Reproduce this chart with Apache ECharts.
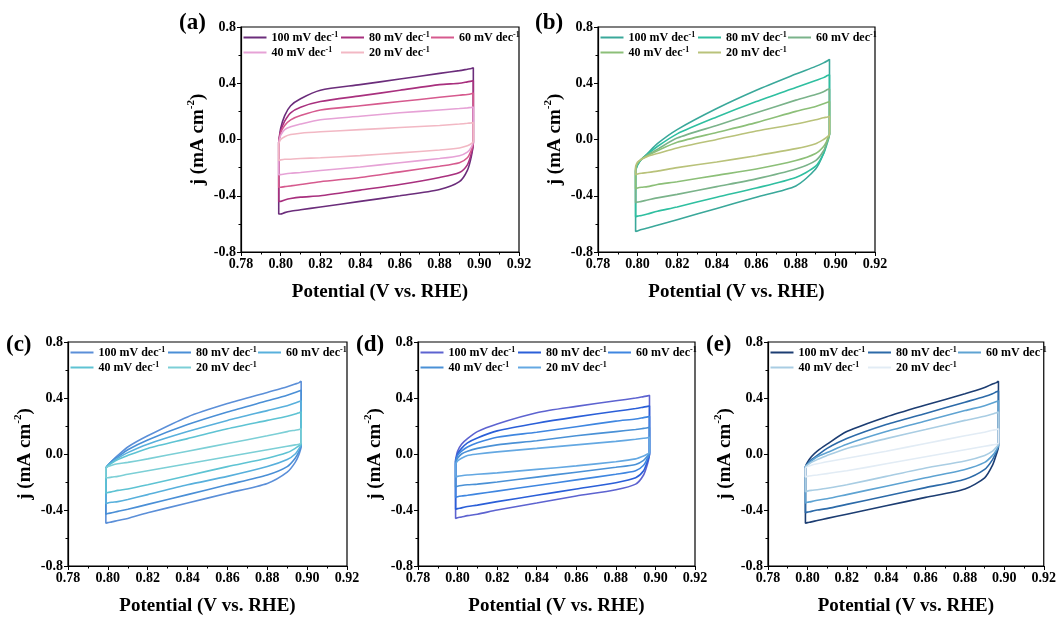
<!DOCTYPE html>
<html>
<head>
<meta charset="utf-8">
<script src="https://cdn.jsdelivr.net/npm/echarts@6/dist/echarts.min.js"></script>
<style>html,body{margin:0;padding:0;background:#fff}#c{width:1059px;height:617px}</style>
</head>
<body>
<div id="c"></div>
<script>
// Potential grid (V vs. RHE) used for both branches of each CV loop
const potentials = [0.799, 0.8, 0.802, 0.805, 0.81, 0.82, 0.84, 0.86, 0.88, 0.89, 0.894, 0.896, 0.897];
const scanRates = ['100', '80', '60', '40', '20'];
const panelLabels = ['(a)', '(b)', '(c)', '(d)', '(e)'];
const xTickMin = 0.78, xTickMax = 0.92, xTickStep = 0.02;
const yTickMin = -0.8, yTickMax = 0.8, yTickStep = 0.4;

// Panel (a): anodic (upper) and cathodic (lower) branches, rows = 100,80,60,40,20 mV
const aUpper = [
  [-0.02, 0.08, 0.17, 0.24, 0.29, 0.35, 0.39, 0.43, 0.47, 0.49, 0.50, 0.505, 0.51],
  [-0.02, 0.06, 0.13, 0.19, 0.23, 0.27, 0.31, 0.35, 0.39, 0.40, 0.41, 0.415, 0.42],
  [-0.02, 0.05, 0.10, 0.14, 0.17, 0.21, 0.24, 0.27, 0.30, 0.315, 0.32, 0.325, 0.33],
  [-0.02, 0.03, 0.07, 0.09, 0.11, 0.14, 0.165, 0.19, 0.21, 0.22, 0.225, 0.228, 0.23],
  [-0.03, 0.00, 0.02, 0.035, 0.045, 0.055, 0.07, 0.085, 0.10, 0.11, 0.115, 0.118, 0.12]
];
const aLower = [
  [-0.53, -0.53, -0.52, -0.51, -0.50, -0.48, -0.44, -0.40, -0.355, -0.30, -0.22, -0.12, -0.02],
  [-0.44, -0.44, -0.43, -0.42, -0.41, -0.40, -0.36, -0.32, -0.27, -0.235, -0.18, -0.10, -0.02],
  [-0.34, -0.34, -0.335, -0.33, -0.32, -0.30, -0.27, -0.23, -0.19, -0.165, -0.13, -0.075, -0.02],
  [-0.25, -0.25, -0.245, -0.24, -0.235, -0.22, -0.195, -0.165, -0.135, -0.115, -0.09, -0.055, -0.01],
  [-0.15, -0.145, -0.14, -0.14, -0.135, -0.13, -0.115, -0.095, -0.075, -0.06, -0.045, -0.03, -0.01]
];
// Panel (b)
const bUpper = [
  [-0.22, -0.18, -0.14, -0.10, -0.03, 0.07, 0.22, 0.35, 0.465, 0.52, 0.545, 0.56, 0.57],
  [-0.22, -0.18, -0.14, -0.105, -0.05, 0.04, 0.16, 0.27, 0.37, 0.42, 0.44, 0.455, 0.46],
  [-0.21, -0.17, -0.14, -0.11, -0.07, 0.01, 0.10, 0.19, 0.28, 0.32, 0.34, 0.355, 0.36],
  [-0.20, -0.17, -0.14, -0.115, -0.08, -0.02, 0.05, 0.12, 0.20, 0.235, 0.255, 0.265, 0.27],
  [-0.19, -0.16, -0.14, -0.12, -0.10, -0.06, 0.00, 0.06, 0.11, 0.14, 0.155, 0.16, 0.165]
];
const bLower = [
  [-0.655, -0.65, -0.64, -0.63, -0.61, -0.57, -0.49, -0.41, -0.33, -0.21, -0.10, 0.0, 0.04],
  [-0.55, -0.545, -0.54, -0.53, -0.51, -0.48, -0.41, -0.345, -0.27, -0.19, -0.10, -0.02, 0.04],
  [-0.45, -0.445, -0.44, -0.43, -0.415, -0.39, -0.335, -0.28, -0.21, -0.15, -0.08, -0.01, 0.04],
  [-0.35, -0.345, -0.34, -0.335, -0.32, -0.30, -0.255, -0.21, -0.15, -0.10, -0.05, 0.0, 0.04],
  [-0.25, -0.245, -0.24, -0.235, -0.225, -0.20, -0.16, -0.115, -0.065, -0.03, 0.0, 0.02, 0.04]
];
// Panel (c)
const cUpper = [
  [-0.10, -0.08, -0.05, -0.01, 0.05, 0.13, 0.265, 0.36, 0.44, 0.48, 0.50, 0.51, 0.52],
  [-0.10, -0.08, -0.05, -0.02, 0.03, 0.10, 0.21, 0.30, 0.38, 0.42, 0.44, 0.45, 0.455],
  [-0.10, -0.08, -0.06, -0.03, 0.01, 0.07, 0.16, 0.24, 0.31, 0.345, 0.365, 0.375, 0.38],
  [-0.10, -0.085, -0.065, -0.04, -0.01, 0.04, 0.11, 0.18, 0.24, 0.27, 0.285, 0.295, 0.30],
  [-0.10, -0.09, -0.08, -0.07, -0.06, -0.035, 0.02, 0.075, 0.13, 0.16, 0.17, 0.175, 0.18]
];
const cLower = [
  [-0.495, -0.49, -0.485, -0.475, -0.46, -0.42, -0.35, -0.28, -0.21, -0.13, -0.06, 0.0, 0.06],
  [-0.43, -0.425, -0.42, -0.41, -0.395, -0.36, -0.29, -0.22, -0.15, -0.09, -0.03, 0.02, 0.06],
  [-0.355, -0.35, -0.345, -0.34, -0.325, -0.29, -0.22, -0.16, -0.09, -0.04, 0.0, 0.04, 0.07],
  [-0.28, -0.275, -0.27, -0.26, -0.25, -0.22, -0.155, -0.09, -0.03, 0.01, 0.04, 0.06, 0.07],
  [-0.17, -0.17, -0.165, -0.16, -0.145, -0.12, -0.07, -0.02, 0.03, 0.055, 0.065, 0.07, 0.08]
];
// Panel (d)
const dUpper = [
  [-0.04, 0.02, 0.07, 0.11, 0.16, 0.215, 0.295, 0.34, 0.38, 0.40, 0.41, 0.415, 0.42],
  [-0.05, 0.0, 0.04, 0.08, 0.115, 0.165, 0.22, 0.265, 0.305, 0.325, 0.335, 0.34, 0.345],
  [-0.05, -0.01, 0.02, 0.05, 0.08, 0.12, 0.155, 0.195, 0.235, 0.25, 0.26, 0.265, 0.27],
  [-0.06, -0.03, 0.0, 0.02, 0.04, 0.065, 0.095, 0.13, 0.16, 0.175, 0.183, 0.187, 0.19],
  [-0.07, -0.05, -0.03, -0.01, 0.0, 0.015, 0.04, 0.065, 0.09, 0.105, 0.112, 0.116, 0.12]
];
const dLower = [
  [-0.46, -0.455, -0.45, -0.44, -0.43, -0.40, -0.35, -0.30, -0.255, -0.215, -0.15, -0.07, 0.0],
  [-0.395, -0.39, -0.385, -0.375, -0.365, -0.34, -0.295, -0.25, -0.205, -0.17, -0.12, -0.05, 0.0],
  [-0.31, -0.305, -0.30, -0.295, -0.285, -0.265, -0.225, -0.185, -0.145, -0.12, -0.08, -0.03, 0.0],
  [-0.235, -0.23, -0.225, -0.22, -0.215, -0.20, -0.165, -0.13, -0.095, -0.075, -0.045, -0.015, 0.01],
  [-0.165, -0.16, -0.155, -0.15, -0.145, -0.135, -0.11, -0.085, -0.055, -0.035, -0.015, 0.0, 0.01]
];
// Panel (e)
const eUpper = [
  [-0.09, -0.06, -0.02, 0.02, 0.07, 0.16, 0.265, 0.35, 0.43, 0.475, 0.50, 0.51, 0.52],
  [-0.09, -0.07, -0.04, -0.01, 0.04, 0.11, 0.21, 0.29, 0.37, 0.41, 0.43, 0.445, 0.45],
  [-0.09, -0.075, -0.05, -0.02, 0.01, 0.07, 0.16, 0.235, 0.31, 0.345, 0.365, 0.375, 0.38],
  [-0.09, -0.08, -0.06, -0.04, -0.01, 0.04, 0.11, 0.175, 0.24, 0.27, 0.285, 0.295, 0.30],
  [-0.10, -0.09, -0.08, -0.07, -0.055, -0.03, 0.02, 0.075, 0.13, 0.155, 0.17, 0.175, 0.18]
];
const eLower = [
  [-0.495, -0.49, -0.485, -0.475, -0.46, -0.43, -0.37, -0.31, -0.25, -0.17, -0.08, 0.0, 0.05],
  [-0.42, -0.415, -0.41, -0.40, -0.39, -0.36, -0.30, -0.24, -0.18, -0.11, -0.04, 0.02, 0.06],
  [-0.35, -0.345, -0.34, -0.33, -0.32, -0.29, -0.23, -0.17, -0.11, -0.06, -0.01, 0.03, 0.06],
  [-0.27, -0.265, -0.26, -0.255, -0.245, -0.22, -0.16, -0.10, -0.05, -0.01, 0.02, 0.05, 0.07],
  [-0.165, -0.16, -0.155, -0.15, -0.14, -0.12, -0.07, -0.02, 0.03, 0.055, 0.065, 0.07, 0.08]
];

const aColors = ['#6b2d7b', '#a8307e', '#d65a8e', '#e6a2d6', '#f2b8c4'];
const bColors = ['#3aa89a', '#2fbfa0', '#7ab38a', '#8cbf78', '#b9c27a'];
const cColors = ['#5b8fd8', '#4a8fd6', '#58b0dc', '#5ec3d3', '#7ccfd6'];
const dColors = ['#5d63d0', '#2b5fd8', '#3f86e0', '#4a91d6', '#64a8e2'];
const eColors = ['#1c3d72', '#2c6aa8', '#5ea3d2', '#a9cde3', '#e2ecf5'];

const panels = [
  {key: 'a', up: aUpper, low: aLower, colors: aColors, box: [241, 27, 278, 225]},
  {key: 'b', up: bUpper, low: bLower, colors: bColors, box: [598, 27, 277, 225]},
  {key: 'c', up: cUpper, low: cLower, colors: cColors, box: [68, 342, 279, 224]},
  {key: 'd', up: dUpper, low: dLower, colors: dColors, box: [418, 342, 277, 224]},
  {key: 'e', up: eUpper, low: eLower, colors: eColors, box: [768, 342, 277, 224]}
];
const labelPos = [[194, 25], [550, 25], [21, 347], [371, 347], [721, 347]];

const FONT = "'Liberation Serif', 'Times New Roman', serif";
const grids = [], xAxes = [], yAxes = [], series = [], legends = [], graphics = [];

panels.forEach((p, i) => {
  const [L, T, W, H] = p.box;
  grids.push({left: L, top: T, width: W, height: H, show: true, borderColor: '#000', borderWidth: 1.2, backgroundColor: 'transparent'});
  xAxes.push({
    type: 'value', gridIndex: i, min: xTickMin, max: xTickMax, interval: xTickStep,
    name: 'Potential (V vs. RHE)', nameLocation: 'middle', nameGap: 31,
    nameTextStyle: {fontFamily: FONT, fontWeight: 'bold', fontSize: 19, color: '#000'},
    axisLine: {onZero: false, lineStyle: {color: '#000', width: 1.2}},
    axisTick: {inside: false, length: 4, lineStyle: {color: '#000', width: 1}},
    minorTick: {show: true, splitNumber: 2, length: 2.5, lineStyle: {color: '#000', width: 1}},
    splitLine: {show: false},
    axisLabel: {margin: 5, fontFamily: FONT, fontWeight: 'bold', fontSize: 14, color: '#000',
      formatter: v => v.toFixed(2)}
  });
  yAxes.push({
    type: 'value', gridIndex: i, min: yTickMin, max: yTickMax, interval: yTickStep,
    name: '{t|j (mA cm}{s|-2}{t|)}', nameLocation: 'middle', nameGap: 33, nameRotate: 90,
    nameTextStyle: {rich: {
      t: {fontFamily: FONT, fontWeight: 'bold', fontSize: 19, color: '#000', lineHeight: 22, verticalAlign: 'bottom'},
      s: {fontFamily: FONT, fontWeight: 'bold', fontSize: 11, color: '#000', lineHeight: 13, verticalAlign: 'top'}
    }},
    axisLine: {onZero: false, lineStyle: {color: '#000', width: 1.2}},
    axisTick: {inside: false, length: 4, lineStyle: {color: '#000', width: 1}},
    minorTick: {show: true, splitNumber: 2, length: 2.5, lineStyle: {color: '#000', width: 1}},
    splitLine: {show: false},
    axisLabel: {margin: 5, fontFamily: FONT, fontWeight: 'bold', fontSize: 14, color: '#000',
      formatter: v => v.toFixed(1)}
  });
  scanRates.forEach((r, k) => {
    const pts = potentials.map((x, j) => [x, p.up[k][j]]);
    for (let j = potentials.length - 1; j >= 0; j--) pts.push([potentials[j], p.low[k][j]]);
    pts.push(pts[0].slice());
    series.push({
      type: 'line', name: p.key + r, xAxisIndex: i, yAxisIndex: i, data: pts,
      symbol: 'none', smooth: 0.25, lineStyle: {color: p.colors[k], width: 1.6},
      itemStyle: {color: p.colors[k]}, z: 2 + k
    });
  });
  const cols = [[['100', '40'], 2.5], [['80', '20'], 100], [['60'], 190]];
  cols.forEach(([names, dx]) => {
    legends.push({
      orient: 'vertical', left: L + dx, top: T + 3.5, padding: 0, itemGap: 2,
      itemWidth: 23, itemHeight: 2, icon: 'rect', selectedMode: false,
      data: names.map(n => p.key + n),
      formatter: name => '{t|' + name.slice(1) + ' mV dec}{s|-1}',
      textStyle: {rich: {
        t: {fontFamily: FONT, fontWeight: 'bold', fontSize: 12, color: '#000', lineHeight: 14},
        s: {fontFamily: FONT, fontWeight: 'bold', fontSize: 8, color: '#000', lineHeight: 8, verticalAlign: 'top'}
      }}
    });
  });
  graphics.push({type: 'text', left: labelPos[i][0] - 15, top: labelPos[i][1] - 13,
    style: {text: panelLabels[i], font: 'bold 23px ' + FONT, fill: '#000'}});
});

const chart = echarts.init(document.getElementById('c'), null, {renderer: 'canvas'});
chart.setOption({
  animation: false, backgroundColor: '#fff',
  grid: grids, xAxis: xAxes, yAxis: yAxes, series: series, legend: legends, graphic: graphics
});
</script>
</body>
</html>
